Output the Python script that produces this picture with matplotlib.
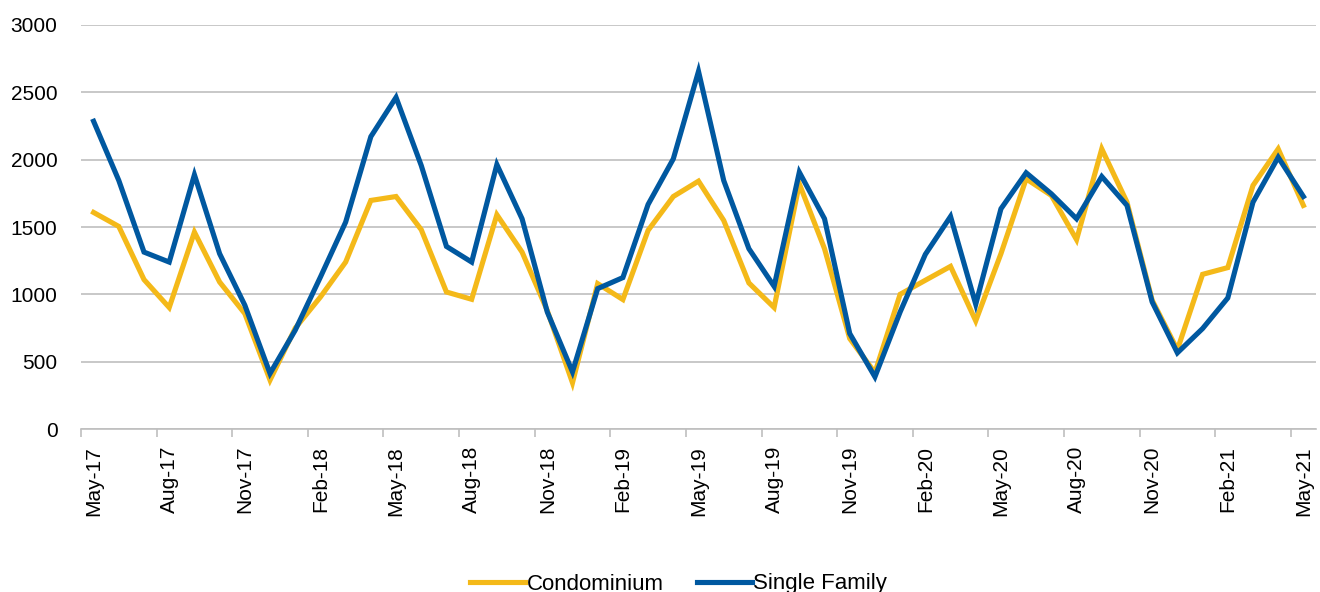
import matplotlib
matplotlib.use("Agg")
import matplotlib.pyplot as plt
import numpy as np

# monthly values, May-17 .. May-21
months = ["May-17", "Jun-17", "Jul-17", "Aug-17", "Sep-17", "Oct-17", "Nov-17", "Dec-17",
          "Jan-18", "Feb-18", "Mar-18", "Apr-18", "May-18", "Jun-18", "Jul-18", "Aug-18",
          "Sep-18", "Oct-18", "Nov-18", "Dec-18", "Jan-19", "Feb-19", "Mar-19", "Apr-19",
          "May-19", "Jun-19", "Jul-19", "Aug-19", "Sep-19", "Oct-19", "Nov-19", "Dec-19",
          "Jan-20", "Feb-20", "Mar-20", "Apr-20", "May-20", "Jun-20", "Jul-20", "Aug-20",
          "Sep-20", "Oct-20", "Nov-20", "Dec-20", "Jan-21", "Feb-21", "Mar-21", "Apr-21",
          "May-21"]

condo = [1608, 1504, 1110, 903, 1462, 1092, 858, 365, 750, 981, 1240, 1697, 1726,
         1480, 1018, 964, 1591, 1314, 880, 345, 1080, 962, 1475, 1726, 1840, 1549,
         1085, 903, 1820, 1339, 673, 420, 1001, 1105, 1208, 804, 1302, 1857, 1734,
         1406, 2079, 1684, 957, 590, 1149, 1199, 1808, 2079, 1660]

single = [2284, 1845, 1314, 1240, 1887, 1302, 920, 414, 735, 1129, 1536, 2170, 2461,
          1956, 1356, 1240, 1963, 1561, 870, 426, 1043, 1125, 1667, 2005, 2654, 1845,
          1339, 1060, 1906, 1561, 710, 389, 870, 1297, 1578, 927, 1635, 1902, 1746,
          1561, 1874, 1660, 944, 567, 747, 974, 1684, 2017, 1726]

YELLOW = "#F4B919"
BLUE = "#0058A0"
GRID = "#BFBFBF"

plt.rcParams["font.family"] = ["Liberation Sans", "DejaVu Sans"]

fig = plt.figure(figsize=(13.2, 5.92), dpi=100)
ax = fig.add_axes([81 / 1320, 1 - 429.3 / 592, (1316 - 81) / 1320, (429.3 - 24.7) / 592])

x = np.arange(len(months))
ax.plot(x, condo, color=YELLOW, lw=3.7, label="Condominium", solid_joinstyle="miter")
ax.plot(x, single, color=BLUE, lw=3.7, label="Single Family", solid_joinstyle="miter")

ax.set_xlim(-0.5, len(months) - 0.5)
ax.set_ylim(0, 3000)
ax.set_yticks(range(0, 3001, 500))
ax.yaxis.grid(True, color=GRID, lw=1.2)
ax.set_axisbelow(True)
ax.tick_params(axis="y", length=0, pad=17, labelsize=15)

# labels every 3 months at category centres, tick marks at boundaries
ax.set_xticks(x[::3])
ax.set_xticklabels(months[::3], rotation=90, fontsize=15)
ax.set_xticks(np.arange(-0.5, len(months) - 0.5, 3), minor=True)
ax.tick_params(axis="x", which="major", length=0, pad=12)
ax.tick_params(axis="x", which="minor", length=6, color=GRID, width=1.2)

for side in ["left", "right", "top"]:
    ax.spines[side].set_visible(False)
ax.spines["bottom"].set_color(GRID)
ax.spines["bottom"].set_linewidth(1.2)

fig.legend(loc="center", bbox_to_anchor=(0.514, 1 - 584 / 592), ncol=2,
           frameon=False, fontsize=16, handlelength=2.5, handletextpad=0.05,
           columnspacing=1.5, borderpad=0)

fig.savefig("out.png", dpi=100)
